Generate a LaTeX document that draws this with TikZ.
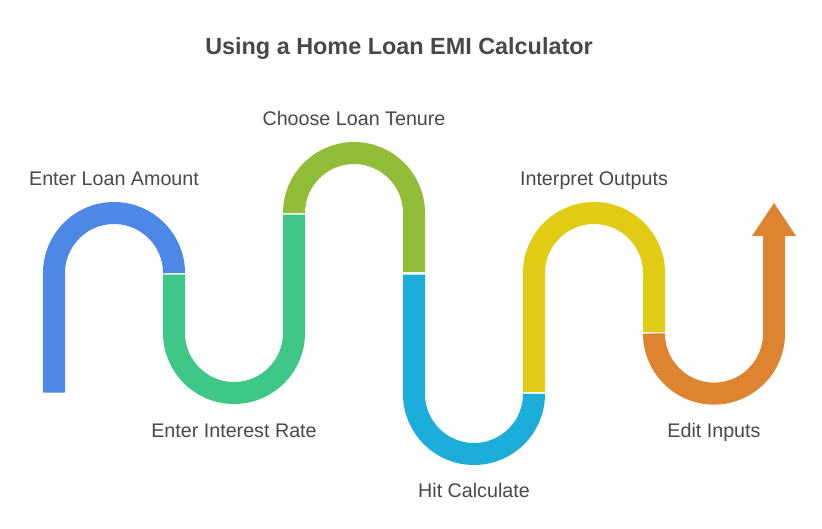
\documentclass[tikz,border=0pt]{standalone}
\usepackage{fontspec}
\setmainfont{Liberation Sans}
\definecolor{cblue}{HTML}{4E88E7}
\definecolor{cgreen}{HTML}{3EC787}
\definecolor{clime}{HTML}{92BD39}
\definecolor{ccyan}{HTML}{1CADDA}
\definecolor{cyell}{HTML}{E0CB15}
\definecolor{corng}{HTML}{DE8431}
\definecolor{ctext}{HTML}{484848}
\tikzset{
  band/.style={line width=22pt,line cap=butt,line join=miter},
  lbl/.style={text=ctext,font=\fontsize{19.7}{24}\selectfont,inner sep=0pt,anchor=base},
  ttl/.style={text=ctext,font=\bfseries\fontsize{23.4}{28}\selectfont,inner sep=0pt,anchor=base}
}
\begin{document}
\begin{tikzpicture}[x=1pt,y=-1pt]
\useasboundingbox (0,0) rectangle (822,528);
\draw[band,cblue] (54,392.5) -- (54,273) arc[start angle=180,end angle=360,radius=60] -- (174,272.2);
\draw[band,cgreen] (174,274.5) -- (174,333) arc[start angle=180,end angle=0,radius=60] -- (294,214.5);
\draw[band,clime] (294,212.2) -- (294,213) arc[start angle=180,end angle=360,radius=60] -- (414,272.2);
\draw[band,ccyan] (414,274.5) -- (414,394) arc[start angle=180,end angle=0,radius=60] -- (534,394.5);
\draw[band,cyell] (534,392.2) -- (534,273) arc[start angle=180,end angle=360,radius=60] -- (654,332.2);
\draw[band,corng] (654,334.5) -- (654,333.6) arc[start angle=180,end angle=0,radius=60] -- (774,235);
\fill[corng] (752,236) -- (774,203) -- (796,236) -- cycle;
\node[ttl] (title) at (399,54) {Using a Home Loan EMI Calculator};
\node[lbl] (a) at (114,185) {Enter Loan Amount};
\node[lbl] (b) at (234,437) {Enter Interest Rate};
\node[lbl] (c) at (354,125) {Choose Loan Tenure};
\node[lbl] (d) at (474,497) {Hit Calculate};
\node[lbl] (e) at (594,185) {Interpret Outputs};
\node[lbl] (f) at (714,437) {Edit Inputs};
\end{tikzpicture}
\end{document}
